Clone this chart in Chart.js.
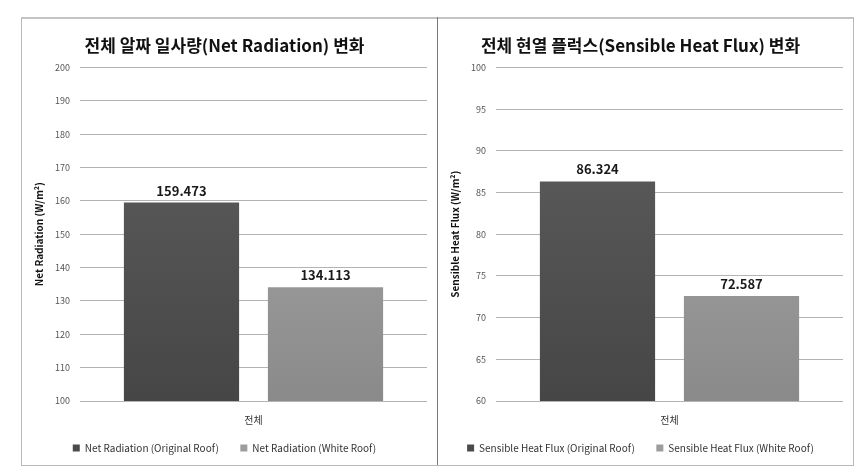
<!DOCTYPE html>
<html>
<head>
<meta charset="utf-8">
<script src="https://cdn.jsdelivr.net/npm/chart.js"></script>
<style>
  body { margin: 0; background: #fff; width: 862px; height: 475px; overflow: hidden; }
  #frame { position: absolute; left: 21px; top: 17px; width: 831px; height: 446px; border: 1px solid #b9b9b9; border-top: 2px solid #c4c4c4; }
  #divider { position: absolute; left: 437px; top: 17px; width: 1px; height: 448px; background: #7a7a7a; }
  .box { position: absolute; top: 19px; width: 414px; height: 444px; }
  #box1 { left: 22px; }
  #box2 { left: 438px; width: 414px; }
</style>
</head>
<body>
<div id="frame"></div>
<div id="divider"></div>
<div class="box" id="box1"><canvas id="chart1"></canvas></div>
<div class="box" id="box2"><canvas id="chart2"></canvas></div>
<script>
// categories and values
const categories = ["전체"];

const netTitle = "전체 알짜 일사량(Net Radiation) 변화";
const netAxisTitle = "Net Radiation (W/m²)";
const netLabels = ["Net Radiation (Original Roof)", "Net Radiation (White Roof)"];
const netOriginal = [159.473];
const netWhite = [134.113];
const netTicks = { min: 100, max: 200, step: 10 };

const shfTitle = "전체 현열 플럭스(Sensible Heat Flux) 변화";
const shfAxisTitle = "Sensible Heat Flux (W/m²)";
const shfLabels = ["Sensible Heat Flux (Original Roof)", "Sensible Heat Flux (White Roof)"];
const shfOriginal = [86.324];
const shfWhite = [72.587];
const shfTicks = { min: 60, max: 100, step: 5 };

const FONT = "'Noto Sans CJK KR', 'Noto Sans', sans-serif";

// vertical gradient for the bars
function grad(top, bottom) {
    return function (ctx) {
        const chart = ctx.chart;
        const area = chart.chartArea;
        if (!area) return bottom;
        const g = chart.ctx.createLinearGradient(0, area.top, 0, area.bottom);
        g.addColorStop(0, top);
        g.addColorStop(1, bottom);
        return g;
    };
}

// values above the bars
const valueLabels = {
    id: "valueLabels",
    afterDatasetsDraw(chart) {
        const ctx = chart.ctx;
        ctx.save();
        ctx.font = "bold 13px " + FONT;
        ctx.fillStyle = "#1a1a1a";
        ctx.textAlign = "center";
        ctx.textBaseline = "middle";
        chart.data.datasets.forEach((ds, i) => {
            chart.getDatasetMeta(i).data.forEach((bar, j) => {
                ctx.fillText(ds.data[j].toFixed(3), bar.x, bar.y - 12);
            });
        });
        ctx.restore();
    }
};

function drawChart(id, title, axisTitle, labels, orig, white, t) {
    new Chart(document.getElementById(id), {
        type: "bar",
        data: {
            labels: categories,
            datasets: [
                { label: labels[0], data: orig, backgroundColor: grad("#606060", "#464646") },
                { label: labels[1], data: white, backgroundColor: grad("#adadad", "#8a8a8a") }
            ]
        },
        options: {
            responsive: true,
            maintainAspectRatio: false,
            animation: false,
            categoryPercentage: 0.83,
            barPercentage: 0.8,
            layout: { padding: { left: 0, right: 9, top: 0, bottom: 0 } },
            plugins: {
                tooltip: { enabled: false },
                title: {
                    display: true,
                    text: title,
                    color: "#111",
                    font: { family: FONT, size: 17, weight: "bold" },
                    padding: { top: 16, bottom: 12 }
                },
                legend: {
                    position: "bottom",
                    labels: {
                        boxWidth: 7,
                        boxHeight: 7,
                        padding: 8,
                        color: "#333",
                        font: { family: FONT, size: 10 },
                        // a little extra room between the two items
                        generateLabels(chart) {
                            const items = Chart.defaults.plugins.legend.labels.generateLabels(chart);
                            items.forEach((it, i) => {
                                it.fillStyle = i === 0 ? "#4a4a4a" : "#9c9c9c";
                                if (i === 0) it.text = it.text + "      ";
                            });
                            return items;
                        }
                    }
                }
            },
            scales: {
                x: {
                    grid: { display: false, drawTicks: false },
                    border: { display: false },
                    ticks: { color: "#333", font: { family: FONT, size: 10 }, padding: 13 },
                    afterFit(scale) { scale.height = 34; }
                },
                y: {
                    min: t.min,
                    max: t.max,
                    grid: { color: "#b3b3b3", drawTicks: false },
                    border: { display: false },
                    ticks: { stepSize: t.step, color: "#555", font: { family: FONT, size: 9 }, padding: 10 },
                    title: {
                        display: true,
                        text: axisTitle,
                        color: "#111",
                        font: { family: FONT, size: 10, weight: "bold" },
                        padding: { top: 11, bottom: 0 }
                    },
                    afterFit(scale) { scale.width = 58; }
                }
            }
        },
        plugins: [valueLabels]
    });
}

drawChart("chart1", netTitle, netAxisTitle, netLabels, netOriginal, netWhite, netTicks);
drawChart("chart2", shfTitle, shfAxisTitle, shfLabels, shfOriginal, shfWhite, shfTicks);
</script>
</body>
</html>
